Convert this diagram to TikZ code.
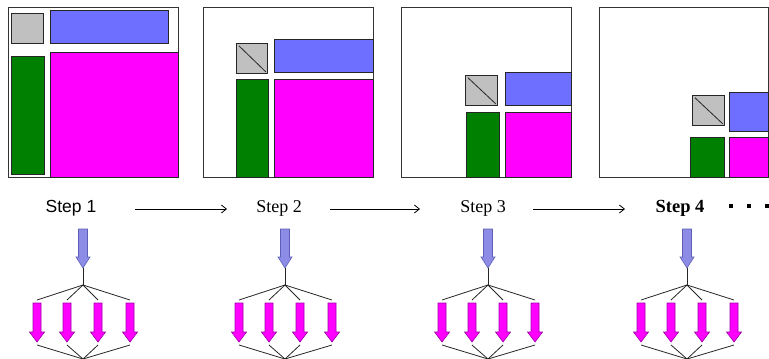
\documentclass[tikz,border=0pt]{standalone}
\usepackage{fontspec}
\setmainfont{Liberation Serif}
\newfontfamily\arialfont{Liberation Sans}
\usetikzlibrary{arrows.meta}
\definecolor{cellgray}{HTML}{C0C0C0}
\definecolor{cellblue}{HTML}{6F6FFF}
\definecolor{cellgreen}{HTML}{008000}
\definecolor{cellmag}{HTML}{FF00FF}
\definecolor{inblue}{HTML}{8C8CE6}
\definecolor{inblueedge}{HTML}{5E5EB4}
\definecolor{outmagedge}{HTML}{A000A8}
\tikzset{
  frame/.style={draw=black!80, line width=0.9pt, fill=white, inner sep=0pt, outer sep=0pt, anchor=north west},
  cell/.style={draw=black!85, line width=0.8pt, inner sep=0pt, outer sep=0pt, anchor=north west},
  diag/.style={draw=black!85, line width=0.8pt, shorten <=4pt, shorten >=1.5pt},
  steplabel/.style={anchor=base, inner sep=0pt, font=\fontsize{18}{20}\selectfont},
  flow/.style={draw=black, line width=0.8pt, -{Straight Barb[length=5pt,width=8pt]}},
  dotmark/.style={fill=black, inner sep=0pt, minimum size=4pt},
  tree/.style={draw=black!85, line width=0.8pt},
  inarrow/.pic={
    \draw[fill=inblue, draw=inblueedge, line width=0.6pt]
      (-4.5,0) -- (4.5,0) -- (4.5,28) -- (7,28) -- (0,39) -- (-7,28) -- (-4.5,28) -- cycle;
    \coordinate (-tip) at (0,39);
  },
  outarrow/.pic={
    \draw[fill=cellmag, draw=outmagedge, line width=0.6pt]
      (-4,0) -- (4,0) -- (4,29) -- (7.5,29) -- (0,39) -- (-7.5,29) -- (-4,29) -- cycle;
    \coordinate (-top) at (0,-3);
    \coordinate (-tip) at (0,42);
  }
}
\begin{document}
\begin{tikzpicture}[x=1pt,y=-1pt]
\useasboundingbox (0,0) rectangle (769,359);

% ---- panel 1
\node[frame, minimum width=170pt, minimum height=170pt] (f1) at (8,7) {};
\node[cell, fill=cellgray,  minimum width=32pt,  minimum height=30pt]  (g1) at (11,13) {};
\node[cell, fill=cellblue,  minimum width=118pt, minimum height=33pt]  (b1) at (50,10) {};
\node[cell, fill=cellgreen, minimum width=33pt,  minimum height=118pt] (e1) at (11,56) {};
\node[cell, fill=cellmag,   minimum width=128pt, minimum height=125pt] (m1) at (50,52) {};

% ---- panel 2
\node[frame, minimum width=170pt, minimum height=170pt] (f2) at (203,7) {};
\node[cell, fill=cellgray,  minimum width=31pt, minimum height=30pt] (g2) at (236,43) {};
\node[cell, fill=cellblue,  minimum width=99pt, minimum height=33pt] (b2) at (274,39) {};
\node[cell, fill=cellgreen, minimum width=32pt, minimum height=98pt] (e2) at (236,79) {};
\node[cell, fill=cellmag,   minimum width=99pt, minimum height=98pt] (m2) at (274,79) {};
\draw[diag] (g2.north west) -- (g2.south east);

% ---- panel 3
\node[frame, minimum width=170pt, minimum height=170pt] (f3) at (401,7) {};
\node[cell, fill=cellgray,  minimum width=32pt, minimum height=30pt] (g3) at (465,75) {};
\node[cell, fill=cellblue,  minimum width=66pt, minimum height=33pt] (b3) at (505,72) {};
\node[cell, fill=cellgreen, minimum width=33pt, minimum height=65pt] (e3) at (466,112) {};
\node[cell, fill=cellmag,   minimum width=66pt, minimum height=65pt] (m3) at (505,112) {};
\draw[diag] (g3.north west) -- (g3.south east);

% ---- panel 4
\node[frame, minimum width=169pt, minimum height=170pt] (f4) at (599,7) {};
\node[cell, fill=cellgray,  minimum width=32pt, minimum height=30pt] (g4) at (692,95) {};
\node[cell, fill=cellblue,  minimum width=39pt, minimum height=39pt] (b4) at (729,92) {};
\node[cell, fill=cellgreen, minimum width=34pt, minimum height=40pt] (e4) at (690,137) {};
\node[cell, fill=cellmag,   minimum width=39pt, minimum height=40pt] (m4) at (729,137) {};
\draw[diag] (g4.north west) -- (g4.south east);

% ---- step labels and flow arrows
\node[steplabel, font=\arialfont\fontsize{17.5}{20}\selectfont] (s1) at (71,212) {Step 1};
\node[steplabel] (s2) at (279,212) {Step 2};
\node[steplabel] (s3) at (483,212) {Step 3};
\node[steplabel, font=\bfseries\fontsize{18.5}{20}\selectfont] (s4) at (680,212) {Step 4};

\coordinate (a1s) at (135,209); \coordinate (a1e) at (227,209);
\coordinate (a2s) at (330,209); \coordinate (a2e) at (420,209);
\coordinate (a3s) at (533,209); \coordinate (a3e) at (625,209);
\draw[flow] (a1s) -- (a1e);
\draw[flow] (a2s) -- (a2e);
\draw[flow] (a3s) -- (a3e);

\node[dotmark] (d1) at (731,206) {};
\node[dotmark] (d2) at (749,206) {};
\node[dotmark] (d3) at (766.5,206) {};

% ---- fan-out trees under each step
\foreach \cx [count=\i] in {83,285,488,687} {
  \pic (tr\i in) at (\cx,229) {inarrow};
  \coordinate (tr\i j) at (\cx,285);
  \coordinate (tr\i b) at (\cx,359);
  \draw[tree] (tr\i in-tip) -- (tr\i j);
  \foreach \dx [count=\k] in {-46,-16,15,47} {
    \pic (tr\i o\k) at (\cx+\dx,303) {outarrow};
    \draw[tree] (tr\i j) -- (tr\i o\k-top);
    \draw[tree] (tr\i o\k-tip) -- (tr\i b);
  }
}
\end{tikzpicture}
\end{document}
